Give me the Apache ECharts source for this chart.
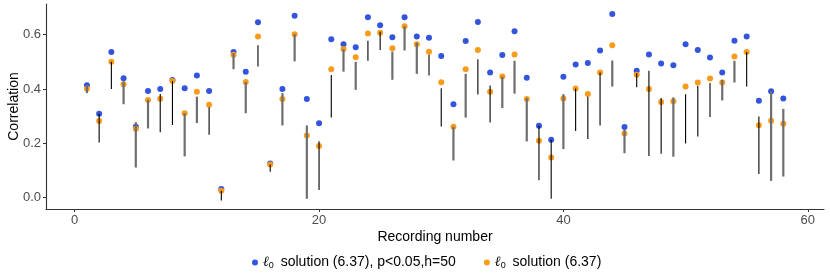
<!DOCTYPE html>
<html><head><meta charset="utf-8">
<script src="https://cdn.jsdelivr.net/npm/echarts@6/dist/echarts.min.js"></script>
<style>html,body{margin:0;padding:0;background:#fff}#c{width:830px;height:277px}</style>
</head><body><div id="c"></div>
<script>
const recording = [1,2,3,4,5,6,7,8,9,10,11,12,13,14,15,16,17,18,19,20,21,22,23,24,25,26,27,28,29,30,31,32,33,34,35,36,37,38,39,40,41,42,43,44,45,46,47,48,49,50,51,52,53,54,55,56,57,58];
const bluePts = [0.414,0.309,0.536,0.44,0.261,0.393,0.40,0.433,0.403,0.45,
  0.393,0.032,0.536,0.464,0.646,0.126,0.40,0.670,0.363,0.274,
  0.583,0.565,0.554,0.664,0.635,0.591,0.664,0.593,0.589,0.522,
  0.344,0.577,0.647,0.461,0.525,0.613,0.442,0.265,0.213,0.445,
  0.49,0.496,0.542,0.676,0.26,0.467,0.527,0.494,0.488,0.565,
  0.544,0.516,0.461,0.578,0.593,0.357,0.392,0.365];
const orangePts = [0.401,0.282,0.50,0.418,0.254,0.36,0.364,0.43,0.311,0.39,
  0.342,0.026,0.526,0.426,0.593,0.122,0.363,0.602,0.229,0.19,
  0.473,0.547,0.517,0.604,0.607,0.55,0.631,0.565,0.537,0.425,
  0.261,0.473,0.544,0.39,0.446,0.527,0.363,0.21,0.148,0.365,
  0.402,0.382,0.461,0.561,0.236,0.453,0.40,0.352,0.355,0.409,
  0.424,0.439,0.424,0.52,0.536,0.267,0.283,0.272];
const segHigh = [0.415,0.309,0.50,0.428,0.278,0.36,0.382,0.43,0.311,0.372,
  0.333,0.026,0.532,0.426,0.561,0.122,0.385,0.602,0.266,0.208,
  0.452,0.547,0.50,0.578,0.611,0.538,0.631,0.571,0.526,0.403,
  0.261,0.456,0.51,0.413,0.446,0.504,0.367,0.265,0.213,0.381,
  0.402,0.372,0.461,0.505,0.25,0.458,0.467,0.367,0.369,0.381,
  0.412,0.422,0.434,0.504,0.536,0.299,0.392,0.327];
const segLow = [0.385,0.203,0.40,0.344,0.111,0.255,0.241,0.268,0.152,0.275,
  0.232,-0.01,0.473,0.311,0.483,0.096,0.266,0.502,-0.004,0.028,
  0.295,0.464,0.397,0.504,0.544,0.434,0.542,0.456,0.45,0.262,
  0.137,0.295,0.38,0.277,0.33,0.383,0.207,0.064,-0.004,0.179,
  0.246,0.216,0.266,0.409,0.164,0.407,0.154,0.162,0.151,0.2,
  0.225,0.297,0.358,0.424,0.409,0.087,0.062,0.078];
const segGroup = ['g','b','b','g','g','g','b','b','g','g',
  'b','b','g','g','b','b','g','g','g','b',
  'b','g','g','b','b','g','g','g','b','b',
  'g','g','b','b','g','g','g','b','b','g',
  'b','b','b','g','g','b','b','b','g','b',
  'b','b','g','g','b','b','g','g'];
const xTicks = [0,20,40,60];
const yTicks = [0,0.2,0.4,0.6];
const nameBlue = 'l0 solution (6.37), p<0.05,h=50';
const nameOrange = 'l0 solution (6.37)';

const chart = echarts.init(document.getElementById('c'), null, {renderer:'canvas'});
const font = 'Liberation Sans, Arial, sans-serif';
const segData = recording.map((r,i)=>[r, segLow[i], segHigh[i], segGroup[i]==='b'?1:0]);
chart.setOption({
  animation:false,
  grid:{left:46,right:6,top:4,bottom:68,containLabel:false,outerBoundsMode:'none'},
  xAxis:{type:'value',min:-2.35,max:61.33,
    name:'Recording number',nameLocation:'middle',nameGap:21,nameMoveOverlap:false,
    nameTextStyle:{fontFamily:font,fontSize:14,color:'#000'},
    axisLine:{show:true,onZero:false,lineStyle:{color:'#333',width:1.1}},
    axisTick:{show:true,length:3,customValues:xTicks,lineStyle:{color:'#333'}},
    axisLabel:{customValues:xTicks,margin:5,fontFamily:font,fontSize:13,color:'#4d4d4d',showMinLabel:true,showMaxLabel:true},
    splitLine:{show:false}},
  yAxis:{type:'value',min:-0.0415,max:0.713,
    name:'Correlation',nameLocation:'middle',nameGap:25,nameRotate:90,nameMoveOverlap:false,
    nameTextStyle:{fontFamily:font,fontSize:14,color:'#000'},
    axisLine:{show:true,onZero:false,lineStyle:{color:'#333',width:1.1}},
    axisTick:{show:true,length:3,customValues:yTicks,lineStyle:{color:'#333'}},
    axisLabel:{customValues:yTicks,margin:5,fontFamily:font,fontSize:13,color:'#4d4d4d',formatter:v=>v.toFixed(1)},
    splitLine:{show:false}},
  legend:{bottom:2,left:247,icon:'circle',itemWidth:6,itemHeight:6,itemGap:28,
    data:[nameBlue,nameOrange],
    formatter:n=> n===nameBlue ? '{i|ℓ}{s|0} solution (6.37), p<0.05,h=50' : '{i|ℓ}{s|0} solution (6.37)',
    textStyle:{fontFamily:font,fontSize:14,color:'#000',
      rich:{i:{fontFamily:'DejaVu Serif',fontStyle:'italic',fontSize:14,color:'#000'},
            s:{fontFamily:font,fontSize:9,color:'#000',padding:[6,3,0,0]}}}},
  series:[
    {name:nameBlue,type:'scatter',symbolSize:6,z:2,itemStyle:{color:'#3355DD',opacity:1},
      data:recording.map((r,i)=>[r,bluePts[i]])},
    {name:nameOrange,type:'scatter',symbolSize:6,z:3,itemStyle:{color:'#F99B1B',opacity:1},
      data:recording.map((r,i)=>[r,orangePts[i]])},
    {type:'custom',z:4,silent:true,data:segData,
      renderItem:(params,api)=>{
        const p1=api.coord([api.value(0),api.value(1)]);
        const p2=api.coord([api.value(0),api.value(2)]);
        const black=api.value(3)===1;
        return {type:'line',shape:{x1:p1[0],y1:p1[1],x2:p2[0],y2:p2[1]},
          style:{stroke:black?'#000':'#6e6e6e',lineWidth:black?1.1:2.2}};
      }}
  ]
});
</script></body></html>
